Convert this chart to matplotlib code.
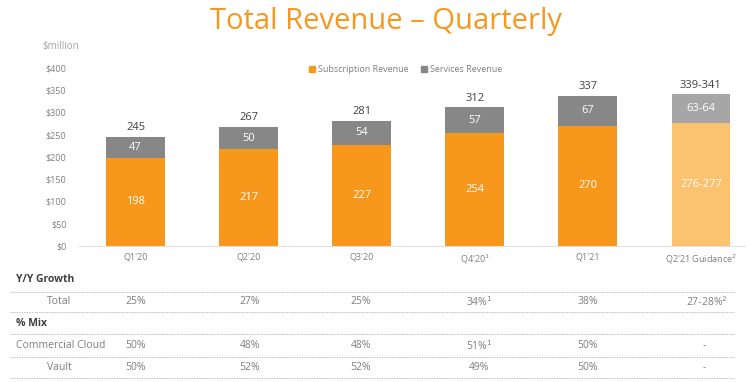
import matplotlib
matplotlib.use("Agg")
import matplotlib.pyplot as plt
from matplotlib.lines import Line2D

plt.rcParams['font.family'] = ['Open Sans', 'DejaVu Sans']

quarters = ["Q1'20", "Q2'20", "Q3'20", "Q4'20$^1$", "Q1'21", "Q2'21 Guidance$^2$"]
subscription = [198, 217, 227, 254, 270, 276.5]
services = [47, 50, 54, 57, 67, 63.5]
subscription_labels = ["198", "217", "227", "254", "270", "276-277"]
services_labels = ["47", "50", "54", "57", "67", "63-64"]
total_labels = ["245", "267", "281", "312", "337", "339-341"]
yticks = [0, 50, 100, 150, 200, 250, 300, 350, 400]

growth_total = ["25%", "27%", "25%", "34%$^1$", "38%", "27-28%$^2$"]
mix_commercial = ["50%", "48%", "48%", "51%$^1$", "50%", "-"]
mix_vault = ["50%", "52%", "52%", "49%", "50%", "-"]

ORANGE = "#f7981d"
GRAY = "#878787"
LORANGE = "#fbc270"
LGRAY = "#a6a6a6"
TXT = "#7f7f7f"

W, H = 750, 382
fig = plt.figure(figsize=(7.5, 3.82), dpi=100)

def fx(px):
    return px / W

def fy(py):
    return 1 - py / H

ax = fig.add_axes([fx(79), fy(246), fx(745) - fx(79), fy(67.7) - fy(246)])
x = list(range(len(quarters)))
sub_colors = [ORANGE] * 5 + [LORANGE]
srv_colors = [GRAY] * 5 + [LGRAY]
ax.bar(x, subscription, width=0.52, color=sub_colors, zorder=2)
ax.bar(x, services, width=0.52, bottom=subscription, color=srv_colors, zorder=2)

for i in x:
    ax.text(i, subscription[i] / 2, subscription_labels[i], ha='center', va='center',
            color='white', fontsize=8, zorder=4)
    ax.text(i, subscription[i] + services[i] / 2, services_labels[i], ha='center',
            va='center', color='white', fontsize=8, zorder=4)
    ax.text(i, subscription[i] + services[i] + 8, total_labels[i], ha='center',
            va='bottom', color='#404040', fontsize=8, zorder=4)

ax.set_xlim(-0.5, 5.39)
ax.set_ylim(0, 400)
ax.set_yticks(yticks)
ax.set_yticklabels([f"${v}" for v in yticks])
ax.set_xticks(x)
ax.set_xticklabels(quarters)
ax.tick_params(axis='both', length=0, labelsize=6.5, colors=TXT)
ax.tick_params(axis='y', pad=9)
ax.tick_params(axis='x', pad=5)
for s in ['top', 'right', 'left']:
    ax.spines[s].set_visible(False)
ax.spines['bottom'].set_color('#e0e0e0')

# title
fig.text(fx(386), fy(21), "Total Revenue – Quarterly", ha='center', va='center',
         fontsize=21, color=ORANGE)
fig.text(fx(42), fy(47), "$million", ha='left', va='center', fontsize=7, color=LGRAY)

# legend
handles = [Line2D([], [], marker='s', linestyle='', color=ORANGE, markersize=5),
           Line2D([], [], marker='s', linestyle='', color=GRAY, markersize=5)]
fig.legend(handles, ["Subscription Revenue", "Services Revenue"], loc='center',
           bbox_to_anchor=(fx(405), fy(70)), ncol=2, frameon=False, fontsize=6.5,
           labelcolor=TXT, handletextpad=0.2, columnspacing=1.2, handlelength=1)

# table
for py in [291.7, 311.7, 334, 356.7, 378]:
    fig.add_artist(Line2D([fx(10), fx(735)], [fy(py), fy(py)], linestyle=(0, (1, 1)),
                          color='#a8a8a8', linewidth=0.6))

fig.text(fx(16), fy(279), "Y/Y Growth", fontsize=7.5, fontweight='bold', color='#404040',
         va='center', ha='left')
fig.text(fx(16), fy(324), "% Mix", fontsize=7.5, fontweight='bold', color='#404040',
         va='center', ha='left')
fig.text(fx(59), fy(301.7), "Total", fontsize=7.5, color=TXT, va='center', ha='center')
fig.text(fx(16), fy(346), "Commercial Cloud", fontsize=7.5, color=TXT, va='center', ha='left')
fig.text(fx(59), fy(368), "Vault", fontsize=7.5, color=TXT, va='center', ha='center')

col_pos = [(136, 'center'), (249.5, 'center'), (371, 'right'), (479, 'center'),
           (588, 'center'), (728, 'right')]
dash_x = 704
for row_vals, py in [(growth_total, 301.7), (mix_commercial, 346), (mix_vault, 368)]:
    for (cx, ha), v in zip(col_pos, row_vals):
        if v == "-":
            fig.text(fx(dash_x), fy(py), v, fontsize=7.5, color=TXT, va='center', ha='center')
        else:
            fig.text(fx(cx), fy(py), v, fontsize=7.5, color=TXT, va='center', ha=ha)

fig.savefig("out.png", dpi=100)
